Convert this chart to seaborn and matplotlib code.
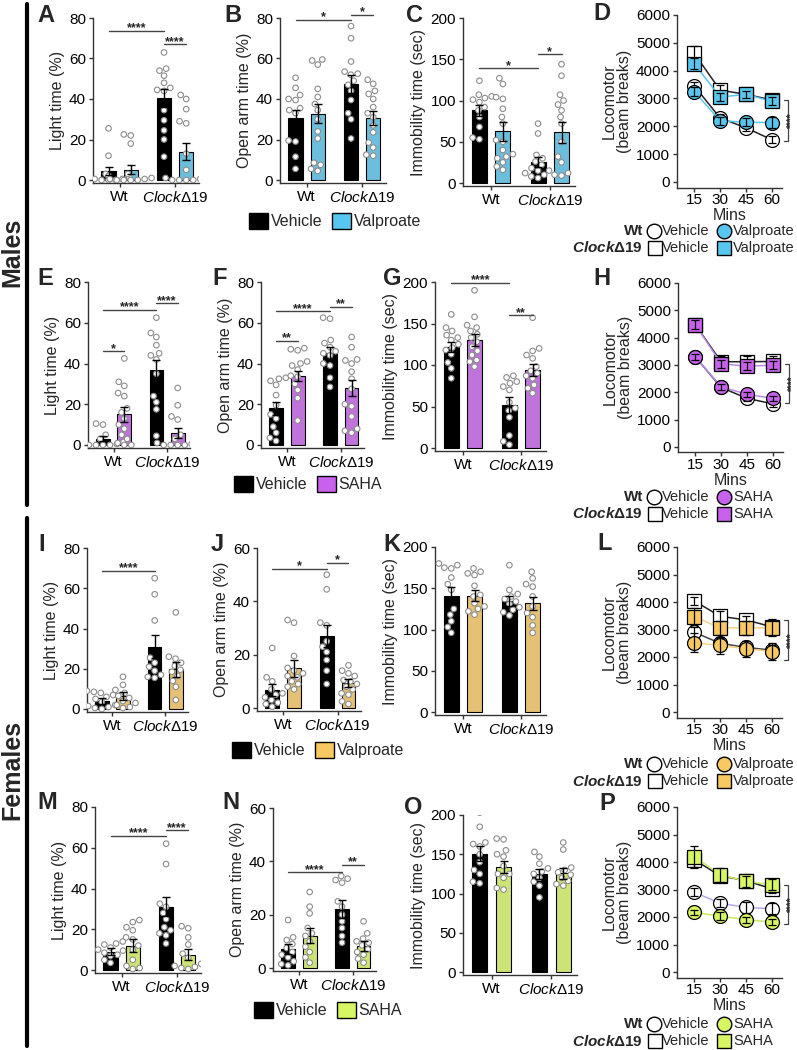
import warnings
warnings.filterwarnings("ignore")
import numpy as np
import pandas as pd
import matplotlib
matplotlib.use("Agg")
import matplotlib.pyplot as plt
from matplotlib.lines import Line2D
from matplotlib.patches import Patch
import matplotlib.transforms as mtransforms
import seaborn as sns

sns.set_theme(style="ticks")
plt.rcParams["font.family"] = ["Liberation Sans", "DejaVu Sans"]
plt.rcParams["mathtext.fontset"] = "custom"
plt.rcParams["mathtext.rm"] = "Liberation Sans"
plt.rcParams["mathtext.it"] = "Liberation Sans:italic"
plt.rcParams["mathtext.bf"] = "Liberation Sans:bold"
plt.rcParams["mathtext.bfit"] = "Liberation Sans:italic:bold"

# ---------------- data ----------------
genotypes = ["Wt", "Clock"]
geno_labels = ["Wt", r"$\mathit{Clock}$Δ19"]
treat_levels = ["Vehicle", "Drug"]
mins = [15, 30, 45, 60]

BLUE = "#58c7ef"
PURPLE = "#c862ec"
YELLOW = "#f8c862"
GREEN = "#d7f663"

# bar panels: order = Wt-Vehicle, Wt-Drug, Clock-Vehicle, Clock-Drug
A_mean = [4.5, 5.0, 40.5, 14.0]
A_sem = [2.0, 2.2, 4.5, 4.3]
A_pts = [[25.5, 12, 3, 2, 1, 0.5, 0, 0, 0, 0.5, 1.5],
         [22.5, 22, 18, 3, 2, 1, 0.5, 0, 0, 0, 0, 0.5],
         [63, 55, 54, 51.5, 48, 45.5, 44.5, 44, 34.5, 29.5, 24.5, 20, 11.5],
         [42, 40, 35, 29, 28, 13, 5, 1, 0.5, 0, 0, 0, 0]]

B_mean = [30.8, 32.7, 47.5, 30.5]
B_sem = [4.0, 4.7, 4.5, 3.5]
B_pts = [[50.5, 45.5, 42, 40, 39.5, 35.5, 34.5, 33, 19.5, 19, 11.5, 5.5],
         [59.5, 59, 57, 45, 41, 37.5, 34.5, 30, 24, 20.5, 8.5, 7.5, 5.5, 4.5],
         [76, 70, 58.5, 53.5, 52.5, 52, 49, 47, 44, 39.5, 33, 30, 20.5],
         [49.5, 47.5, 44, 42.5, 40, 36, 33, 31, 27, 23.5, 18.5, 16, 12.5, 12]]

C_mean = [88, 63, 25.5, 61.5]
C_sem = [6.5, 11.5, 6.5, 12.5]
C_pts = [[124, 107, 105, 103, 101, 98, 92, 88, 80, 68, 55, 53],
         [127, 120, 104, 102, 90, 80, 72, 52, 50, 40, 35, 32, 30, 25, 20, 16],
         [72, 60, 34, 30, 26, 22, 18, 15, 12, 10, 8, 6],
         [144, 130, 107, 100, 95, 88, 80, 72, 50, 32, 25, 15, 12, 10, 9]]

E_mean = [3.0, 15.0, 36.7, 6.0]
E_sem = [1.2, 3.5, 5.0, 2.5]
E_pts = [[10.5, 10, 5, 3, 2, 1.5, 1, 0.5, 0, 0, 0, 0],
         [42.5, 31, 29, 25.5, 24, 18, 16, 13, 10, 8, 5, 3, 1, 0, 0],
         [62.5, 55, 53, 49, 45, 44, 42, 35, 24, 21, 17.5, 4.5],
         [28, 19.5, 14, 12.5, 5, 3, 1, 0.5, 0, 0, 0, 0]]

F_mean = [18, 33.8, 45.2, 28]
F_sem = [3.2, 2.5, 3.0, 3.8]
F_pts = [[33, 32.5, 31.5, 29.5, 24.5, 19.5, 15, 13, 9, 6, 3.5, 2],
         [47.5, 47, 46.5, 41, 40, 39, 37, 34, 33.5, 30, 27, 23, 12],
         [62.5, 62, 51.5, 50, 48, 46, 45, 44, 40, 39, 33, 28.5],
         [53, 48, 42, 41.5, 40, 36, 32.5, 27.5, 20, 19, 14, 8, 7, 6]]

G_mean = [122, 130, 51.5, 94]
G_sem = [6, 7, 9.5, 7]
G_pts = [[161, 145, 141, 136, 133, 130, 125, 121, 118, 113, 103, 96, 84],
         [190, 158, 148, 145, 141, 137, 133, 128, 122, 117, 112, 106, 104, 98],
         [87, 85, 80, 78, 74, 70, 55, 48, 45, 37, 15, 8, 4],
         [157, 120, 117, 112, 108, 98, 93, 90, 87, 84, 76, 72, 66]]

I_mean = [4.1, 6.3, 31, 19.8]
I_sem = [1.6, 1.9, 5.8, 3.8]
I_pts = [[9, 8.5, 8, 7, 6, 5, 3.5, 3, 2, 1.5, 1, 0.5, 0],
         [16, 12, 9.5, 8, 6.5, 5.5, 4, 3, 2, 1, 0.5],
         [65, 57, 44, 25.5, 23, 21, 19, 17, 16, 15.5],
         [48, 26, 25, 23, 21.5, 19.5, 18.5, 16.5, 14, 11, 4.5]]

J_mean = [6.8, 14.9, 27, 9.3]
J_sem = [2.3, 3.1, 4.0, 1.5]
J_pts = [[22.5, 11.5, 10, 7, 5.5, 5, 4, 3, 2, 1.5, 0.5],
         [33, 32, 19.5, 15, 14, 13, 12, 11.5, 10, 9, 8, 7],
         [50, 44.5, 32, 31, 25, 23, 21, 18, 14, 9],
         [16, 14, 13, 12, 10.5, 10, 9, 8, 7, 5.5, 5, 2.5, 1.5]]

K_mean = [141, 141, 135, 132]
K_sem = [10, 7, 6, 8]
K_pts = [[180, 178, 175, 174, 163, 155, 148, 125, 118, 110, 103, 96],
         [174, 170, 168, 166, 153, 142, 140, 132, 128, 125, 122, 118],
         [178, 148, 143, 140, 137, 134, 131, 127, 124, 121, 117],
         [170, 162, 155, 152, 140, 128, 120, 115, 105, 96]]

M_mean = [9, 12, 31, 7.6]
M_sem = [1.7, 3.2, 4.6, 2.5]
M_pts = [[14, 13, 12.5, 11, 10, 9.5, 8.5, 7.5, 7, 5, 3.5],
         [24.5, 23.5, 21, 19.5, 16, 15, 12, 10, 5, 2, 1, 0.5],
         [62, 52, 32.5, 31, 28, 25, 21, 19.5, 18, 17, 13],
         [21.5, 20.5, 16, 12.5, 8, 6, 3, 2, 1.5, 1, 0.5]]

N_mean = [7.1, 12.1, 22.1, 8.1]
N_sem = [2.0, 2.8, 3.4, 1.9]
N_pts = [[18, 11.5, 10.5, 9, 7.5, 6, 5, 4, 2.5, 1.5, 1],
         [28.5, 23, 20.5, 15, 13, 12, 10, 8, 6, 4, 2],
         [34.5, 33.5, 33, 32, 25, 23, 20, 17.5, 15, 12, 9.5],
         [17.5, 13, 11, 10, 9.5, 8.5, 7, 6, 5, 3.5, 2]]

O_mean = [150.5, 134, 125, 125.5]
O_sem = [9.5, 7.7, 6, 7.5]
O_pts = [[203, 185, 165, 163, 160, 150, 140, 130, 125, 115, 113],
         [170, 169, 155, 150, 147, 135, 125, 125, 120, 107, 105],
         [153, 147, 138, 132, 128, 125, 120, 115, 110, 95],
         [165, 156, 133, 130, 127, 124, 120, 116, 112, 110]]

# significance: (bar i, bar j, height, label)
A_sig = [(0, 2, 73.5, "****"), (2, 3, 67, "****")]
B_sig = [(0, 2, 79, "*"), (2, 3, 81.5, "*")]
C_sig = [(0, 2, 139, "*"), (2, 3, 156, "*")]
E_sig = [(0, 1, 46, "*"), (0, 2, 66.5, "****"), (2, 3, 69.5, "****")]
F_sig = [(0, 1, 51, "**"), (0, 2, 65.6, "****"), (2, 3, 67.8, "**")]
G_sig = [(0, 2, 199, "****"), (2, 3, 160, "**")]
I_sig = [(0, 2, 68.5, "****")]
J_sig = [(0, 2, 52.3, "*"), (2, 3, 54.4, "*")]
M_sig = [(0, 2, 66, "****"), (2, 3, 68.5, "****")]
N_sig = [(0, 2, 35.9, "****"), (2, 3, 38.75, "**")]

# locomotor panels: Wt-Vehicle, Wt-Drug, Clock-Vehicle, Clock-Drug
D_mean = [[3450, 2300, 1950, 1520], [3250, 2200, 2150, 2130],
          [4620, 3300, 3150, 2950], [4250, 3050, 3150, 2900]]
D_sem = [[150, 150, 120, 120], [150, 150, 150, 200],
         [250, 200, 150, 150], [200, 150, 120, 150]]
H_mean = [[3300, 2180, 1780, 1580], [3300, 2200, 1930, 1780],
          [4480, 3120, 3120, 3130], [4480, 3050, 2950, 3000]]
H_sem = [[120, 100, 100, 100], [100, 100, 100, 100],
         [150, 200, 200, 200], [150, 150, 150, 150]]
L_mean = [[2900, 2500, 2350, 2250], [2520, 2420, 2300, 2200],
          [4040, 3480, 3350, 3100], [3470, 3060, 3060, 3060]]
L_sem = [[200, 200, 250, 200], [350, 300, 300, 300],
         [150, 200, 150, 300], [300, 250, 250, 300]]
P_mean = [[2900, 2500, 2350, 2300], [2170, 2030, 1900, 1820],
          [4080, 3500, 3320, 3030], [4200, 3540, 3300, 3170]]
P_sem = [[150, 150, 200, 200], [80, 150, 100, 100],
         [250, 200, 150, 150], [400, 250, 200, 200]]
D_bracket = (2930, 1480)
H_bracket = (3050, 1600)
L_bracket = (3350, 1900)
P_bracket = (3170, 1730)

# ---------------- figure ----------------
W, H = 797, 1050
fig = plt.figure(figsize=(W / 100, H / 100), dpi=100)
SPC = "#333333"
FS = 11


def style_axes(ax):
    sns.despine(ax=ax)
    for s in ("left", "bottom"):
        ax.spines[s].set_linewidth(1.0)
        ax.spines[s].set_color(SPC)
    ax.tick_params(axis="both", length=3, width=1, color=SPC, labelsize=FS,
                   labelcolor="black", pad=2)


def bar_panel(box, mean, sem, pts, color, ymax, ystep, ylabel, sigs):
    l, r, t, z = box
    b = z + (z - t) * 0.02
    ax = fig.add_axes([l / W, 1 - b / H, (r - l) / W, (b - t) / H])
    bars = pd.DataFrame({"geno": ["Wt", "Wt", "Clock", "Clock"],
                         "treat": treat_levels * 2, "val": mean})
    pal = {"Vehicle": "black", "Drug": color}
    sns.barplot(data=bars, x="geno", y="val", hue="treat", order=genotypes,
                hue_order=treat_levels, palette=pal, width=0.8, gap=0.36,
                edgecolor="black", linewidth=0.8, errorbar=None, legend=False,
                ax=ax, zorder=2)
    rows = []
    for k, p in enumerate(pts):
        for v in p:
            rows.append((genotypes[k // 2], treat_levels[k % 2], v))
    df = pd.DataFrame(rows, columns=["geno", "treat", "val"])
    sns.swarmplot(data=df, x="geno", y="val", hue="treat", order=genotypes,
                  hue_order=treat_levels, dodge=True,
                  palette={"Vehicle": "white", "Drug": "white"},
                  edgecolor="#8c8c8c", linewidth=0.8, size=4.0, legend=False,
                  ax=ax, zorder=3)
    xs = [-0.2, 0.2, 0.8, 1.2]
    ax.errorbar(xs, mean, yerr=sem, fmt="none", ecolor="black",
                elinewidth=1, capsize=3, capthick=1, zorder=4)
    for i, j, y, txt in sigs:
        ax.plot([xs[i], xs[j]], [y, y], color="#444444", lw=1, clip_on=False,
                zorder=5)
        ax.annotate(txt, xy=((xs[i] + xs[j]) / 2, y), xytext=(0, -2.5),
                    textcoords="offset points", ha="center", va="bottom",
                    fontsize=9, fontweight="bold", annotation_clip=False)
    ax.set_xlim(-0.48, 1.43)
    ax.set_ylim(-0.02 * ymax, ymax)
    ax.set_yticks(np.arange(0, ymax + 1, ystep))
    ax.set_xticks([0, 1])
    ax.set_xticklabels(geno_labels, fontsize=FS)
    ax.set_xlabel("")
    ax.set_ylabel(ylabel, fontsize=11.5, labelpad=3)
    style_axes(ax)
    return ax


def line_panel(box, means, sems, color, wt_veh_line, drug_line, bracket):
    l, r, t, z = box
    b = z + (z - t) * 200 / 6000
    ax = fig.add_axes([l / W, 1 - b / H, (r - l) / W, (b - t) / H])
    specs = [("o", "white", wt_veh_line), ("o", color, drug_line),
             ("s", "white", "#222222"), ("s", color, drug_line)]
    order = [0, 2, 1, 3]
    for zi, k in enumerate(order):
        mk, fc, lc = specs[k]
        sns.lineplot(x=mins, y=means[k], ax=ax, color=lc, lw=1.1,
                     marker=mk, markersize=10, markerfacecolor=fc,
                     markeredgecolor="black", markeredgewidth=0.9,
                     zorder=3 + zi, legend=False)
        ax.errorbar(mins, means[k], yerr=sems[k], fmt="none", ecolor="black",
                    elinewidth=0.9, capsize=3, capthick=0.9, zorder=3.5 + zi)
    ax.set_xlim(4.94, 66)
    ax.set_ylim(-200, 6000)
    ax.set_xticks(mins)
    ax.set_yticks(np.arange(0, 6001, 1000))
    ax.set_ylabel("Locomotor\n(beam breaks)", fontsize=11.5, labelpad=3,
                  linespacing=1.0)
    style_axes(ax)
    ax.tick_params(axis="x", pad=1)
    ax.set_xlabel("Mins", fontsize=11.5, labelpad=0.5)
    tr = mtransforms.blended_transform_factory(ax.transAxes, ax.transData)
    top, bot = bracket
    ax.plot([1.02, 1.055, 1.055, 1.02], [top, top, bot, bot], color="#444444",
            lw=0.9, transform=tr, clip_on=False)
    ax.text(1.095, (top + bot) / 2, "****", rotation=90, ha="center",
            va="center", fontsize=7, fontweight="bold", transform=tr)
    return ax


# layout in pixel coordinates: (left, right, top-tick, zero-tick)
bar_panel((93, 199, 18, 180), A_mean, A_sem, A_pts, BLUE, 80, 20, "Light time (%)", A_sig)
bar_panel((280, 386, 18, 180), B_mean, B_sem, B_pts, BLUE, 80, 20, "Open arm time (%)", B_sig)
bar_panel((463, 575, 18, 183), C_mean, C_sem, C_pts, BLUE, 200, 50, "Immobility time (sec)", C_sig)
bar_panel((88, 190, 282, 445), E_mean, E_sem, E_pts, PURPLE, 80, 20, "Light time (%)", E_sig)
bar_panel((261, 364, 282, 445), F_mean, F_sem, F_pts, PURPLE, 80, 20, "Open arm time (%)", F_sig)
bar_panel((435, 546, 282, 448), G_mean, G_sem, G_pts, PURPLE, 200, 50, "Immobility time (sec)", G_sig)
bar_panel((87, 188, 548, 709), I_mean, I_sem, I_pts, YELLOW, 80, 20, "Light time (%)", I_sig)
bar_panel((257, 361, 548, 708), J_mean, J_sem, J_pts, YELLOW, 60, 20, "Open arm time (%)", J_sig)
bar_panel((435, 546, 547, 712), K_mean, K_sem, K_pts, YELLOW, 200, 50, "Immobility time (sec)", [])
bar_panel((95, 201, 807, 970), M_mean, M_sem, M_pts, GREEN, 80, 20, "Light time (%)", M_sig)
bar_panel((273, 376, 808, 968), N_mean, N_sem, N_pts, GREEN, 60, 20, "Open arm time (%)", N_sig)
bar_panel((463, 577, 815, 972), O_mean, O_sem, O_pts, GREEN, 200, 50, "Immobility time (sec)", [])

line_panel((677, 782, 15, 182), D_mean, D_sem, BLUE, "#222222", BLUE, D_bracket)
line_panel((678, 783, 283, 447), H_mean, H_sem, PURPLE, "#222222", "#b98ae6", H_bracket)
line_panel((677, 782, 547, 712), L_mean, L_sem, YELLOW, "#444444", "#f6d383", L_bracket)
line_panel((677, 782, 807, 972), P_mean, P_sem, GREEN, "#b8a8e8", "#c9ea62", P_bracket)


def fx(x):
    return x / W


def fy(y):
    return 1 - y / H


# panel letters
letters = [("A", 37, 4), ("B", 224, 4), ("C", 406, 4), ("D", 593, 2),
           ("E", 37, 267), ("F", 212, 267), ("G", 383, 267), ("H", 593, 267),
           ("I", 38, 533), ("J", 211, 533), ("K", 383, 533), ("L", 597, 532),
           ("M", 37, 791), ("N", 222, 791), ("O", 404, 796), ("P", 599, 792)]
for s, x, y in letters:
    fig.text(fx(x), fy(y), s, fontsize=17, fontweight="bold", ha="left", va="top")

# bar legends
for cx, cy, col, lab in [(335, 221, BLUE, "Valproate"), (308, 484, PURPLE, "SAHA"),
                         (318, 750, YELLOW, "Valproate"), (328, 1010, GREEN, "SAHA")]:
    fig.legend(handles=[Patch(fc="black", ec="black", lw=1), Patch(fc=col, ec="black", lw=1)],
               labels=["Vehicle", lab], loc="center", bbox_to_anchor=(fx(cx), fy(cy)),
               ncol=2, frameon=False, handlelength=1.2, handleheight=1.2,
               handletextpad=0.15, columnspacing=0.6, fontsize=11.5,
               borderaxespad=0, borderpad=0)


# locomotor legends
def line_legend(y1, y2, col, lab):
    fig.text(fx(643), fy(y1), "Wt", fontsize=11, fontweight="bold", ha="right", va="center")
    fig.text(fx(643), fy(y2), r"$\mathbfit{Clock}$Δ19", fontsize=11, fontweight="bold",
             ha="right", va="center")
    for (x, y, mk, fc) in [(654, y1, "o", "white"), (724, y1, "o", col),
                           (655, y2, "s", "white"), (724, y2, "s", col)]:
        fig.add_artist(Line2D([fx(x)], [fy(y)], transform=fig.transFigure, marker=mk,
                              ms=10.5, mfc=fc, mec="black", mew=1, ls="none"))
    for y in (y1, y2):
        fig.text(fx(662), fy(y), "Vehicle", fontsize=10.5, ha="left", va="center")
        fig.text(fx(733), fy(y), lab, fontsize=10.5, ha="left", va="center")


line_legend(231, 248, BLUE, "Valproate")
line_legend(497, 514, PURPLE, "SAHA")
line_legend(764, 781, YELLOW, "Valproate")
line_legend(1024, 1041, GREEN, "SAHA")

# sex labels and bars
fig.add_artist(Line2D([fx(27), fx(27)], [fy(4), fy(505)], transform=fig.transFigure,
                      color="black", lw=3))
fig.add_artist(Line2D([fx(27), fx(27)], [fy(518), fy(1046)], transform=fig.transFigure,
                      color="black", lw=3))
fig.text(fx(12), fy(252), "Males", rotation=90, fontsize=18, fontweight="bold",
         ha="center", va="center")
fig.text(fx(12), fy(770), "Females", rotation=90, fontsize=18, fontweight="bold",
         ha="center", va="center")

fig.savefig("out.png", dpi=100)
